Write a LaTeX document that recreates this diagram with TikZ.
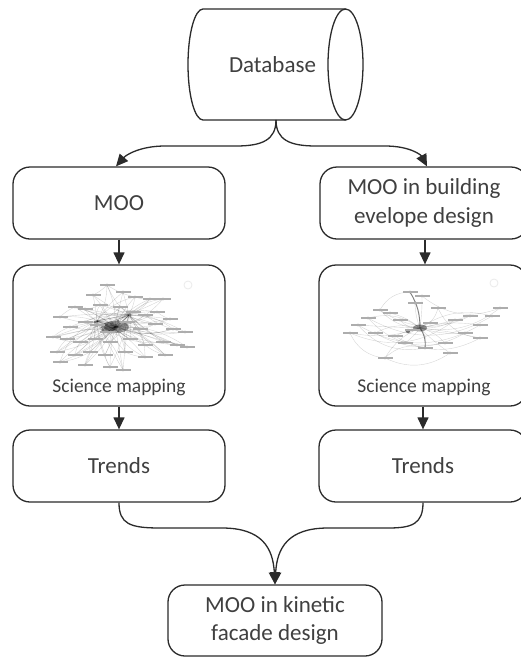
\documentclass[tikz,border=0pt]{standalone}
\usepackage{fontspec}
\setmainfont{Carlito}
\usetikzlibrary{arrows.meta}
\definecolor{ink}{HTML}{404040}
\definecolor{edge}{HTML}{2B2B2B}

\tikzset{
  box/.style={draw=edge, line width=1.3pt, rounded corners=17pt, text=ink,
    font=\fontsize{23}{28}\selectfont, align=center, inner sep=0pt},
  flow/.style={draw=edge, line width=1.3pt, -{Triangle[length=12pt,width=11pt]}},
  lbl/.style={text=ink, font=\fontsize{23}{28}\selectfont, inner sep=0pt},
  small/.style={text=ink, font=\fontsize{19.5}{23}\selectfont, inner sep=0pt},
  link/.style={draw=black, draw opacity=0.16, line width=0.4pt},
  dot/.style={fill=black!55, draw=none},
  tag/.style={draw=black!32, line width=1.2pt},
  faint/.style={draw=black!8, line width=0.8pt},
}

\begin{document}
\begin{tikzpicture}[x=1pt,y=-1pt]
\fill[white] (0,0) rectangle (521,657);
\useasboundingbox (0,0) rectangle (521,657);

% database cylinder
\draw[edge, line width=1.3pt] (345.5,9) -- (203,9)
  arc[start angle=270, end angle=90, x radius=15, y radius=55.5] -- (345.5,120);
\draw[edge, line width=1.3pt] (345.5,64.5) ellipse[x radius=17.5, y radius=55.5];
\node[lbl, anchor=base] (db) at (272.5,72) {Database};
\coordinate (dbS) at (276,120);

% boxes
\node[box, minimum width=212pt, minimum height=72pt] (moo) at (119,203) {MOO};
\node[box, minimum width=208pt, minimum height=72pt, font=\fontsize{23}{29}\selectfont] (bld) at (424,203) {MOO in building\\evelope design};
\node[box, minimum width=212pt, minimum height=141pt] (sciL) at (119,335.5) {};
\node[box, minimum width=208pt, minimum height=141pt] (sciR) at (423,335.5) {};
\node[small, anchor=base] (capL) at (119,392) {Science mapping};
\node[small, anchor=base] (capR) at (424,392) {Science mapping};
\node[box, minimum width=212pt, minimum height=72pt] (trL) at (119,466) {Trends};
\node[box, minimum width=208pt, minimum height=72pt] (trR) at (423,466) {Trends};
\node[box, minimum width=214pt, minimum height=71pt] (fin) at (275,620.5) {MOO in kinetic\\facade design};

% co-occurrence network, left
\begin{scope}[shift={(115,327)}]
  \foreach \x/\y [count=\i] in {-8/-42,-22/-32,8/-35,20/-30,35/-28,48/-28,-40/-20,-30/-18,-15/-22,5/-20,
      18/-15,30/-12,42/-15,55/-8,-55/-10,-45/0,-30/-5,-18/-2,-8/5,12/-5,25/2,40/-3,58/2,70/5,
      -62/10,-48/12,-35/15,-20/12,-5/15,15/12,30/18,48/15,62/18,72/20,-58/25,-40/28,-25/25,
      -10/28,10/25,30/30,-55/35,-5/40,8/43,-30/38,50/28}
    {\pgfmathsetmacro\bA{mod(\i*7,40)-20}
     \pgfmathsetmacro\bB{mod(\i*11,50)-25}
     \draw[link] (0,0) to[bend left=\bA] (\x,\y);
     \draw[link] (-18,-6) to[bend left=\bB] (\x,\y);
     \draw[link] (14,-12) to[bend right=\bA] (\x,\y);}
  \foreach \ax/\ay/\bx/\by in {-40/-20/-55/-10,-30/-18/-15/-22,20/-30/35/-28,42/-15/55/-8,
      -45/0/-62/10,-48/12/-58/25,25/2/40/-3,58/2/70/5,-35/15/-40/28,-10/28/-5/40,10/25/30/30,
      48/15/62/18,-22/-32/-8/-42,5/-20/18/-15,-25/25/-30/38,30/18/50/28,-8/-42/20/-30,
      -55/35/-25/25,30/-12/58/2,-62/10/-35/15,8/43/-5/15,72/20/48/15}
    {\draw[link] (\ax,\ay) to[bend right=10] (\bx,\by);}
  \fill[black, opacity=0.35] (0,0) ellipse[x radius=14, y radius=6];
  \fill[black, opacity=0.35] (-4,0) ellipse[x radius=7, y radius=4];
  \foreach \x/\y in {-6/-3,5/2,-12/3,10/-4,3/-6,-3/5,-20/-5,15/-12}
    {\fill[dot] (\x,\y) circle (1.5);}
  \foreach \x/\y in {-8/-42,-22/-32,8/-35,20/-30,35/-28,48/-28,-40/-20,-30/-18,-15/-22,5/-20,
      18/-15,30/-12,42/-15,55/-8,-55/-10,-45/0,-30/-5,-18/-2,-8/5,12/-5,25/2,40/-3,58/2,70/5,
      -62/10,-48/12,-35/15,-20/12,-5/15,15/12,30/18,48/15,62/18,72/20,-58/25,-40/28,-25/25,
      -10/28,10/25,30/30,-55/35,-5/40,8/43,-30/38,50/28}
    {\fill[dot] (\x,\y) circle (1.4); \draw[tag] (\x-7,\y) -- (\x+8,\y);}
\end{scope}
\draw[faint] (188,285) circle (4);

% co-occurrence network, right
\begin{scope}[shift={(420,328)}]
  \foreach \x/\y [count=\i] in {-10/-36,2/-32,-5/-25,-40/-18,-52/-10,-30/-15,-62/-3,-70/5,-20/-8,-45/5,
      -25/8,-8/2,10/-5,18/-20,35/-8,50/-12,60/-3,72/-12,80/-20,45/5,60/10,25/15,5/20,-35/30,
      30/25,-15/15}
    {\pgfmathsetmacro\bA{mod(\i*13,60)-30}
     \draw[link] (0,0) to[bend left=\bA] (\x,\y);}
  \foreach \ax/\ay/\bx/\by in {-70/5/35/-8,-62/-3/60/-3,-52/-10/72/-12,-40/-18/50/-12,
      -45/5/45/5,-35/30/30/25,-25/8/60/10,2/-32/80/-20,-10/-36/-40/-18,5/20/-35/30,
      -62/-3/5/20,-70/5/-35/30,18/-20/60/10,-52/-10/25/15}
    {\draw[link] (\ax,\ay) to[bend right=30] (\bx,\by);}
  \draw[black!50, line width=0.9pt] (0,0) to[bend left=20] (5,20);
  \draw[black!50, line width=0.9pt] (0,0) to[bend right=15] (-10,-36);
  \draw[black!40, line width=0.7pt] (0,0) to[bend left=10] (-12,3);
  \fill[black, opacity=0.4] (0,0) ellipse[x radius=7, y radius=3.5];
  \fill[dot] (-12,3) circle (2.2);
  \foreach \x/\y in {-10/-36,2/-32,-5/-25,-40/-18,-52/-10,-30/-15,-62/-3,-70/5,-20/-8,-45/5,
      -25/8,-8/2,10/-5,18/-20,35/-8,50/-12,60/-3,72/-12,80/-20,45/5,60/10,25/15,5/20,-35/30,
      30/25,-15/15}
    {\fill[dot] (\x,\y) circle (1.4); \draw[tag] (\x-7,\y) -- (\x+8,\y);}
\end{scope}
\draw[faint] (494,283) circle (4);

% connectors
\draw[flow] (dbS) .. controls (276,140) and (262,146) .. (236,146) -- (165,146)
  .. controls (140,146) and (126,155) .. ([xshift=-3pt]moo.north);
\draw[flow] (dbS) .. controls (276,140) and (290,146) .. (316,146) -- (385,146)
  .. controls (410,146) and (421,155) .. ([xshift=3pt]bld.north);
\draw[flow] (moo) -- (sciL);
\draw[flow] ([xshift=1pt]bld.south) -- ([xshift=2pt]sciR.north);
\draw[flow] (sciL) -- (trL);
\draw[flow] (sciR) -- (trR);
\draw[flow] (trL.south) .. controls (119,524) and (130,528) .. (160,528) -- (222,528)
  .. controls (262,528) and (273,548) .. (fin.north);
\draw[flow] (trR.south) .. controls (423,524) and (412,528) .. (388,528) -- (328,528)
  .. controls (288,528) and (277,548) .. (fin.north);
\end{tikzpicture}
\end{document}
